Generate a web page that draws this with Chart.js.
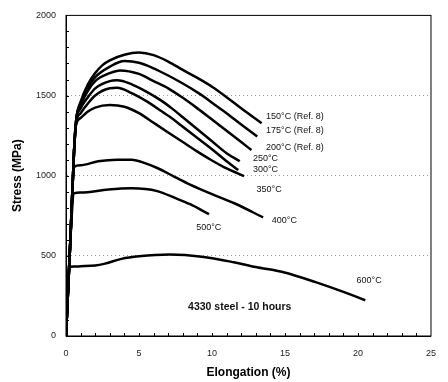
<!DOCTYPE html>
<html>
<head>
<meta charset="utf-8">
<script src="https://cdn.jsdelivr.net/npm/chart.js@4"></script>
<style>
  html, body { margin: 0; padding: 0; background: #fff; }
</style>
</head>
<body>
<canvas id="stressChart" width="448" height="382"></canvas>
<script>
// Stress-strain curves, 4330 steel after 10 hours at each temperature
const xTicks = [0, 5, 10, 15, 20, 25];
const yTicks = [0, 500, 1000, 1500, 2000];

const strain150 = [0, 0.3, 0.55, 0.7, 1, 1.5, 2, 2.5, 3, 4, 5, 6, 7, 8, 9, 10, 11, 12, 13.4];
const stress150 = [0, 600, 1150, 1350, 1460, 1570, 1640, 1690, 1720, 1755, 1768, 1752, 1712, 1660, 1610, 1555, 1490, 1420, 1327];

const strain175 = [0, 0.3, 0.55, 0.7, 1, 1.5, 2, 3, 4, 5, 6, 7, 8, 9, 9.5, 10, 11, 12, 13.1];
const stress175 = [0, 600, 1150, 1350, 1450, 1550, 1615, 1680, 1715, 1705, 1670, 1625, 1575, 1520, 1490, 1455, 1390, 1320, 1245];

const strain200 = [0, 0.3, 0.55, 0.7, 1, 1.5, 2, 3, 3.7, 5, 6, 7, 7.9, 9, 10, 11, 12, 12.7];
const stress200 = [0, 600, 1150, 1350, 1440, 1530, 1590, 1640, 1657, 1635, 1590, 1545, 1492, 1420, 1350, 1280, 1210, 1160];

const strain250 = [0, 0.3, 0.55, 0.7, 1, 1.5, 2, 3, 3.5, 4.5, 5.5, 6.5, 7.25, 8, 9, 10, 11, 11.9];
const stress250 = [0, 600, 1150, 1340, 1420, 1490, 1545, 1590, 1595, 1570, 1525, 1470, 1420, 1365, 1290, 1215, 1140, 1090];

const strain300 = [0, 0.3, 0.55, 0.7, 1, 1.5, 2, 3, 3.5, 4.5, 5.5, 6.5, 7.25, 8, 9, 10, 11, 11.8];
const stress300 = [0, 600, 1150, 1330, 1390, 1450, 1500, 1545, 1548, 1515, 1465, 1405, 1358, 1305, 1235, 1165, 1090, 1035];

const strain350 = [0, 0.3, 0.55, 0.65, 1, 1.5, 2, 3, 4, 5, 6, 7, 8, 9, 10, 11, 12.2];
const stress350 = [0, 600, 1150, 1300, 1360, 1400, 1425, 1441, 1430, 1390, 1330, 1270, 1210, 1150, 1095, 1045, 997];

const strain400 = [0, 0.3, 0.55, 1, 2.2, 3.5, 4.5, 5.5, 6.25, 7.5, 8.5, 10, 11.6, 13.5];
const stress400 = [0, 600, 1055, 1065, 1090, 1100, 1100, 1075, 1048, 990, 945, 885, 825, 740];

const strain500 = [0, 0.3, 0.55, 1, 2.9, 4.5, 6.25, 7.5, 8.5, 9.8];
const stress500 = [0, 600, 890, 895, 914, 921, 904, 860, 822, 760];

const strain600 = [0, 0.25, 0.5, 1, 2, 2.6, 3.8, 5, 7.1, 9.3, 11.5, 13, 14.9, 17.1, 19, 20.5];
const stress600 = [0, 430, 433, 435, 440, 450, 481, 497, 508, 495, 460, 430, 398, 336, 275, 223];

const curveNames = ["150°C", "175°C", "200°C", "250°C", "300°C", "350°C", "400°C", "500°C", "600°C"];
const curveStrains = [strain150, strain175, strain200, strain250, strain300, strain350, strain400, strain500, strain600];
const curveStresses = [stress150, stress175, stress200, stress250, stress300, stress350, stress400, stress500, stress600];

// text labels placed in data units
const labelTexts = ["150°C (Ref. 8)", "175°C (Ref. 8)", "200°C (Ref. 8)", "250°C", "300°C", "350°C", "400°C", "500°C", "600°C"];
const labelX = [13.7, 13.7, 13.7, 12.8, 12.8, 13.05, 14.1, 8.92, 19.9];
const labelY = [1368, 1280, 1176, 1106, 1038, 914, 722, 677, 345];
const noteText = "4330 steel - 10 hours";
const noteX = 11.9;
const noteY = 178;

const FONT = "'Liberation Sans', Arial, sans-serif";

const datasets = curveNames.map((name, i) => ({
  label: name,
  data: curveStrains[i].map((x, j) => ({ x: x, y: curveStresses[i][j] })),
  borderColor: "#000",
  borderWidth: 2.5,
  pointRadius: 0,
  fill: false,
  cubicInterpolationMode: "monotone",
}));

// frame, inward minor ticks and curve labels
const annotations = {
  id: "annotations",
  afterDatasetsDraw(chart) {
    const ctx = chart.ctx;
    const xs = chart.scales.x;
    const ys = chart.scales.y;
    const area = chart.chartArea;
    ctx.save();

    ctx.strokeStyle = "#000";
    ctx.lineWidth = 1;
    ctx.strokeRect(area.left, area.top, area.right - area.left, area.bottom - area.top);

    ctx.beginPath();
    for (let v = 100; v < 2000; v += 100) {
      const py = Math.round(ys.getPixelForValue(v)) + 0.5;
      ctx.moveTo(area.left, py);
      ctx.lineTo(area.left + 3, py);
    }
    for (let v = 1; v < 25; v++) {
      const px = Math.round(xs.getPixelForValue(v)) + 0.5;
      ctx.moveTo(px, area.bottom);
      ctx.lineTo(px, area.bottom - 3);
    }
    ctx.stroke();

    ctx.fillStyle = "#111";
    ctx.font = "9px " + FONT;
    ctx.textAlign = "left";
    ctx.textBaseline = "middle";
    labelTexts.forEach((t, i) => {
      ctx.fillText(t, xs.getPixelForValue(labelX[i]), ys.getPixelForValue(labelY[i]));
    });

    ctx.font = "bold 10.5px " + FONT;
    ctx.textAlign = "center";
    ctx.fillText(noteText, xs.getPixelForValue(noteX), ys.getPixelForValue(noteY));
    ctx.restore();
  },
};

new Chart(document.getElementById("stressChart"), {
  type: "line",
  data: { datasets: datasets },
  options: {
    responsive: false,
    animation: false,
    layout: { padding: { top: 13, right: 7, left: 0, bottom: 0 } },
    plugins: { legend: { display: false }, tooltip: { enabled: false } },
    scales: {
      x: {
        type: "linear",
        min: 0,
        max: 25,
        afterFit: (s) => { s.height = 46; },
        afterBuildTicks: (s) => { s.ticks = xTicks.map((v) => ({ value: v })); },
        ticks: { color: "#222", font: { family: FONT, size: 9 }, padding: 12, callback: (v) => String(v) },
        grid: { display: false, drawTicks: false },
        border: { color: "#000" },
        title: {
          display: true,
          text: "Elongation (%)",
          color: "#000",
          font: { family: FONT, size: 12, weight: "bold" },
          padding: { top: 0, bottom: 2 },
        },
      },
      y: {
        type: "linear",
        min: 0,
        max: 2000,
        afterFit: (s) => { s.width = 66; },
        afterBuildTicks: (s) => { s.ticks = yTicks.map((v) => ({ value: v })); },
        ticks: { color: "#222", font: { family: FONT, size: 9 }, padding: 10, callback: (v) => String(v) },
        grid: {
          drawTicks: false,
          color: (c) => (c.tick && c.tick.value > 0 && c.tick.value < 2000 ? "#9a9a9a" : "rgba(0,0,0,0)"),
          lineWidth: 1,
        },
        border: { color: "#000", dash: [1, 3] },
        title: {
          display: true,
          text: "Stress (MPa)",
          color: "#000",
          font: { family: FONT, size: 12, weight: "bold" },
          padding: { top: 10, bottom: 0 },
        },
      },
    },
  },
  plugins: [annotations],
});
</script>
</body>
</html>
